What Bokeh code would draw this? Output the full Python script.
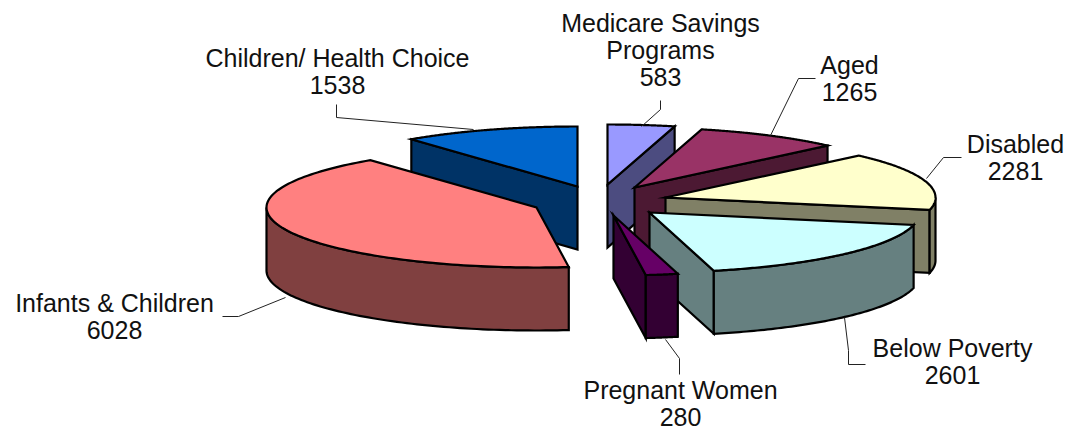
import numpy as np
from bokeh.plotting import figure
from bokeh.models import ColumnDataSource
from bokeh.embed import file_html
from bokeh.resources import INLINE
from bokeh.core.properties import value as bk_value

# data
categories = ["Medicare Savings Programs", "Aged", "Disabled", "Below Poverty",
              "Pregnant Women", "Infants & Children", "Children/ Health Choice"]
values = [583, 1265, 2281, 2601, 280, 6028, 1538]
label_lines = [["Medicare Savings", "Programs"], ["Aged"], ["Disabled"], ["Below Poverty"],
               ["Pregnant Women"], ["Infants & Children"], ["Children/ Health Choice"]]

# style
top_colors = ["#9999FF", "#993366", "#FFFFCC", "#CCFFFF", "#660066", "#FF8080", "#0066CC"]
side_colors = ["#4C4C80", "#4C1933", "#808066", "#668080", "#330033", "#804040", "#003366"]
apex_x = [607, 634, 665, 649, 613, 536, 577]
apex_y = [184, 187, 197, 212, 215, 207, 186]
draw_order = [6, 5, 0, 1, 2, 3, 4]
RX, RY, DEPTH = 270, 60, 63
label_x = [660, 849, 1015, 952, 680, 114, 337]
label_y = [22, 64, 143, 347, 389, 302, 57]
LINE_H = 27
leaders_x = [[641, 660, 660], [770, 798, 815], [926, 943, 961], [844, 848, 848, 865],
             [665, 679, 679], [285, 238, 222], [473, 336, 336]]
leaders_y = [[126, 109, 100], [135, 78, 78], [178, 157, 157], [317, 350, 364, 364],
             [339, 358, 374], [297, 316, 316], [129, 117, 104]]

W, H = 1067, 429
p = figure(width=W, height=H, x_range=(0, W), y_range=(H, 0),
           output_backend="svg", toolbar_location=None, min_border=0)
p.axis.visible = False
p.grid.visible = False
p.outline_line_color = None
p.background_fill_color = "white"


def pt(cx, cy, deg):
    a = np.radians(deg)
    return cx + RX * np.sin(a), cy - RY * np.cos(a)


fractions = np.array(values) / sum(values) * 360
ends = np.cumsum(fractions)
starts = ends - fractions

xs, ys, fills = [], [], []


def add(x, y, c):
    xs.append(list(x)); ys.append(list(y)); fills.append(c)


for i in draw_order:
    cx, cy, s, e = apex_x[i], apex_y[i], starts[i], ends[i]
    sx, sy = pt(cx, cy, s)
    ex, ey = pt(cx, cy, e)
    if 180 < s < 360:
        add([cx, sx, sx, cx], [cy, sy, sy + DEPTH, cy + DEPTH], side_colors[i])
    if 0 < e < 180:
        add([cx, ex, ex, cx], [cy, ey, ey + DEPTH, cy + DEPTH], side_colors[i])
    a0, a1 = max(s, 90), min(e, 270)
    if a1 > a0:
        t = np.linspace(a0, a1, 80)
        ax, ay = pt(cx, cy, t)
        add(list(ax) + list(ax[::-1]), list(ay) + list((ay + DEPTH)[::-1]), side_colors[i])
    t = np.linspace(s, e, 120)
    ax, ay = pt(cx, cy, t)
    add([cx] + list(ax), [cy] + list(ay), top_colors[i])

p.patches("xs", "ys", source=ColumnDataSource(dict(xs=xs, ys=ys, fill=fills)),
          fill_color="fill", line_color="black", line_width=2.2, line_join="miter")
p.multi_line(leaders_x, leaders_y, line_color="#222222", line_width=1)

tx, ty, tt = [], [], []
for i, lines in enumerate(label_lines):
    rows = lines + [str(values[i])]
    for k, row in enumerate(rows):
        tx.append(label_x[i]); ty.append(label_y[i] + k * LINE_H); tt.append(row)
p.text(tx, ty, text=tt, text_align="center", text_baseline="middle",
       text_font=bk_value("Liberation Sans"), text_font_size="25px", text_color="#111111")

open("out.html", "w").write(file_html(p, INLINE))
